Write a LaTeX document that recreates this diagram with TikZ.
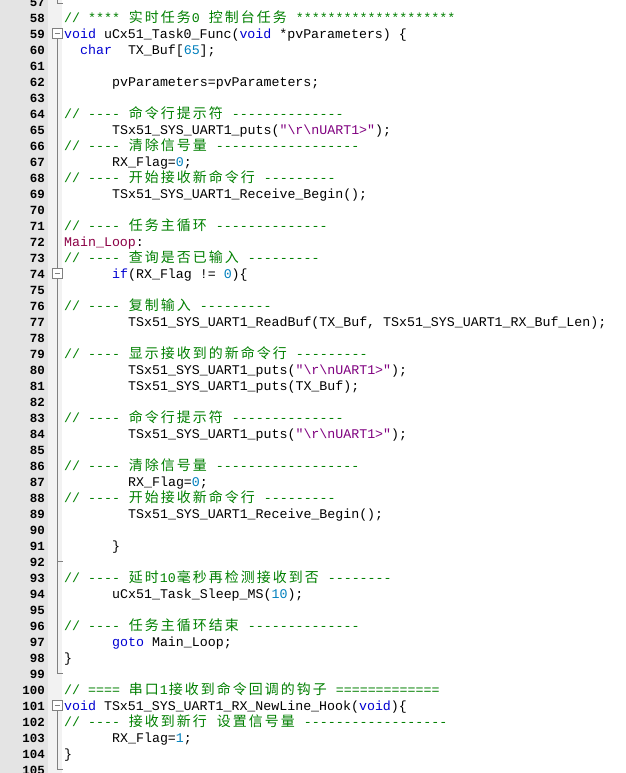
\documentclass[tikz,border=0pt]{standalone}
\usepackage{fontspec}
\setmonofont{Liberation Mono}
\newfontfamily\zhfont{Noto Sans CJK SC}
\definecolor{cmt}{RGB}{0,128,0}
\definecolor{kwc}{RGB}{0,0,210}
\definecolor{strc}{RGB}{128,0,128}
\definecolor{numc}{RGB}{0,128,190}
\definecolor{lblc}{RGB}{140,0,70}
\definecolor{gut}{RGB}{228,228,228}
\definecolor{foldm}{RGB}{242,242,242}
\definecolor{foldl}{RGB}{128,128,128}
\def\zhloop#1{\ifx#1\relax\else\makebox[16bp]{#1}\expandafter\zhloop\fi}
\newcommand\zh[1]{{\fontsize{14}{16}\zhfont\zhloop#1\relax}}
\newcommand\kw[1]{\textcolor{kwc}{#1}}
\newcommand\st[1]{\textcolor{strc}{#1}}
\newcommand\nm[1]{\textcolor{numc}{#1}}
\newcommand\cm[1]{\textcolor{cmt}{#1}}
\newcommand\yb[1]{17.7+(#1-58)*16}
\tikzset{codetxt/.style={anchor=base west,inner sep=0pt,font=\ttfamily\fontsize{13.33}{16}\selectfont},
lnum/.style={anchor=base east,inner sep=0pt,font=\ttfamily\bfseries\fontsize{12.5}{16}\selectfont}}
\newcommand\Lc[3]{\node[codetxt] (c#1) at ({64+8*#2},{\yb{#1}+4.5}) {#3};}
\begin{document}
\begin{tikzpicture}[x=1bp,y=-1bp]
\useasboundingbox (0,0) rectangle (626,773);
\fill[white] (0,0) rectangle (626,773);
\fill[gut] (0,0) rectangle (48,773);
\fill[foldm] (48,0) rectangle (62,773);
\foreach \n in {57,...,105} {\node[lnum] (n\n) at (45,{\yb{\n}+4.5}) {\n};}
% fold markers
\tikzset{fold/.style={draw=foldl,line width=0.8bp}}
\foreach \n in {59,74,101}{
  \draw[fold,fill=white] (52,{\yb{\n}-5}) rectangle (62,{\yb{\n}+5});
  \draw[fold] (54.5,{\yb{\n}}) -- (59.5,{\yb{\n}});}
\draw[fold] (57,{\yb{59}+5}) -- (57,{\yb{74}-5});
\draw[fold] (57,{\yb{74}+5}) -- (57,{\yb{99}}) -- (63,{\yb{99}});
\draw[fold] (57,{\yb{92}}) -- (63,{\yb{92}});
\draw[fold] (57,{\yb{101}+5}) -- (57,{\yb{105}}) -- (63,{\yb{105}});
\draw[fold] (57,0) -- (57,3) -- (63,3);
% code
\Lc{58}{0}{\cm{// **** \zh{实时任务}0 \zh{控制台任务} ********************}}
\Lc{59}{0}{\kw{void} uCx51\_Task0\_Func(\kw{void} *pvParameters) \{}
\Lc{60}{2}{\kw{char}~~TX\_Buf[\nm{65}];}
\Lc{62}{6}{pvParameters=pvParameters;}
\Lc{64}{0}{\cm{// ---- \zh{命令行提示符} --------------}}
\Lc{65}{6}{TSx51\_SYS\_UART1\_puts(\st{"\textbackslash r\textbackslash nUART1>"});}
\Lc{66}{0}{\cm{// ---- \zh{清除信号量} ------------------}}
\Lc{67}{6}{RX\_Flag=\nm{0};}
\Lc{68}{0}{\cm{// ---- \zh{开始接收新命令行} ---------}}
\Lc{69}{6}{TSx51\_SYS\_UART1\_Receive\_Begin();}
\Lc{71}{0}{\cm{// ---- \zh{任务主循环} --------------}}
\Lc{72}{0}{\textcolor{lblc}{Main\_Loop}:}
\Lc{73}{0}{\cm{// ---- \zh{查询是否已输入} ---------}}
\Lc{74}{6}{\kw{if}(RX\_Flag != \nm{0})\{}
\Lc{76}{0}{\cm{// ---- \zh{复制输入} ---------}}
\Lc{77}{8}{TSx51\_SYS\_UART1\_ReadBuf(TX\_Buf, TSx51\_SYS\_UART1\_RX\_Buf\_Len);}
\Lc{79}{0}{\cm{// ---- \zh{显示接收到的新命令行} ---------}}
\Lc{80}{8}{TSx51\_SYS\_UART1\_puts(\st{"\textbackslash r\textbackslash nUART1>"});}
\Lc{81}{8}{TSx51\_SYS\_UART1\_puts(TX\_Buf);}
\Lc{83}{0}{\cm{// ---- \zh{命令行提示符} --------------}}
\Lc{84}{8}{TSx51\_SYS\_UART1\_puts(\st{"\textbackslash r\textbackslash nUART1>"});}
\Lc{86}{0}{\cm{// ---- \zh{清除信号量} ------------------}}
\Lc{87}{8}{RX\_Flag=\nm{0};}
\Lc{88}{0}{\cm{// ---- \zh{开始接收新命令行} ---------}}
\Lc{89}{8}{TSx51\_SYS\_UART1\_Receive\_Begin();}
\Lc{91}{6}{\}}
\Lc{93}{0}{\cm{// ---- \zh{延时}10\zh{毫秒再检测接收到否} --------}}
\Lc{94}{6}{uCx51\_Task\_Sleep\_MS(\nm{10});}
\Lc{96}{0}{\cm{// ---- \zh{任务主循环结束} --------------}}
\Lc{97}{6}{\kw{goto} Main\_Loop;}
\Lc{98}{0}{\}}
\Lc{100}{0}{\cm{// ==== \zh{串口}1\zh{接收到命令回调的钩子} =============}}
\Lc{101}{0}{\kw{void} TSx51\_SYS\_UART1\_RX\_NewLine\_Hook(\kw{void})\{}
\Lc{102}{0}{\cm{// ---- \zh{接收到新行} \zh{设置信号量} ------------------}}
\Lc{103}{6}{RX\_Flag=\nm{1};}
\Lc{104}{0}{\}}
\end{tikzpicture}
\end{document}
